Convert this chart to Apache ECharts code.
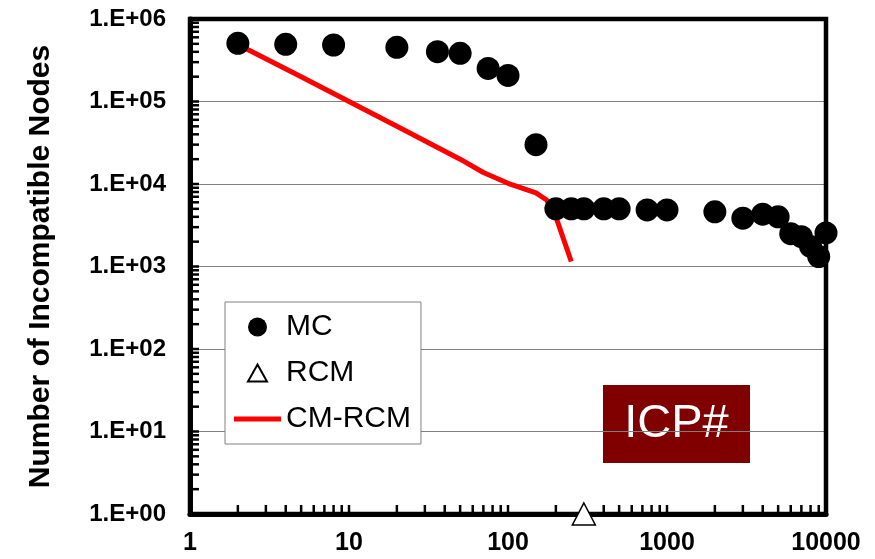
<!DOCTYPE html>
<html>
<head>
<meta charset="utf-8">
<script src="https://cdn.jsdelivr.net/npm/echarts@6/dist/echarts.min.js"></script>
<style>
html,body{margin:0;padding:0;background:#fff;}
#chart{width:875px;height:559px;}
</style>
</head>
<body>
<div id="chart"></div>
<script>
// ---- data ----
var mcX = [2, 4, 8, 20, 36, 50, 75, 100, 150, 200, 250, 300, 400, 500, 750, 1000, 2000, 3000, 4000, 5000, 6000, 7000, 8000, 9000, 10000];
var mcY = [507000, 493000, 484000, 454000, 402000, 384000, 252000, 207000, 30000, 5000, 5000, 5000, 5000, 5000, 4850, 4850, 4600, 3850, 4300, 4000, 2500, 2300, 1750, 1320, 2550];
var rcmX = [300];
var rcmY = [1];
var cmX = [2, 5, 10, 20, 50, 70, 100, 150, 175, 200, 250];
var cmY = [490000, 200000, 100000, 50000, 20000, 13800, 10200, 7800, 6400, 4000, 1150];
var xTickLabels = ['1', '10', '100', '1000', '10000'];
var yTickLabels = ['1.E+00', '1.E+01', '1.E+02', '1.E+03', '1.E+04', '1.E+05', '1.E+06'];
var seriesNames = ['MC', 'RCM', 'CM-RCM'];
var yTitle = 'Number of Incompatible Nodes';
var boxLabel = 'ICP#';
var xRange = [1, 10000];
var yRange = [1, 1000000];

function zip(a, b) { return a.map(function (v, i) { return [v, b[i]]; }); }
// tick positions along the log axes (1..9 within each decade)
function tickVals(decades) {
  var out = [];
  for (var d = 0; d < decades; d++) for (var k = 1; k <= 9; k++) out.push(k * Math.pow(10, d));
  out.push(Math.pow(10, decades));
  return out;
}
var xTicks = tickVals(4).map(function (v) { return [v, yRange[0]]; });
var yTicks = tickVals(6).map(function (v) { return [xRange[0], v]; });
var frame = [[xRange[0], yRange[0]], [xRange[1], yRange[0]], [xRange[1], yRange[1]], [xRange[0], yRange[1]], [xRange[0], yRange[0]]];

var FONT = '"Liberation Sans", Arial, sans-serif';
var chart = echarts.init(document.getElementById('chart'), null, { renderer: 'canvas' });

var option = {
  animation: false,
  backgroundColor: '#ffffff',
  grid: { left: 190, right: 49, top: 19, bottom: 45, show: true, borderColor: '#000', borderWidth: 4, backgroundColor: 'transparent' },
  xAxis: {
    type: 'log', logBase: 10, min: xRange[0], max: xRange[1], splitNumber: 4,
    axisLine: { show: true, onZero: false, lineStyle: { color: '#000', width: 5 } },
    axisTick: { show: false },
    splitLine: { show: false },
    axisLabel: {
      margin: 17, color: '#000', fontFamily: FONT, fontWeight: 'bold', fontSize: 25,
      formatter: function (v) { var i = Math.round(Math.log10(v)); return xTickLabels[i] || ''; }
    }
  },
  yAxis: {
    type: 'log', logBase: 10, min: yRange[0], max: yRange[1], splitNumber: 6,
    name: yTitle, nameLocation: 'middle', nameRotate: 90, nameGap: 134,
    nameTextStyle: { color: '#000', fontFamily: FONT, fontWeight: 'bold', fontSize: 30 },
    axisLine: { show: true, onZero: false, lineStyle: { color: '#000', width: 5 } },
    axisTick: { show: false },
    splitLine: { show: true, lineStyle: { color: '#808080', width: 1 } },
    axisLabel: {
      margin: 24, color: '#000', fontFamily: FONT, fontWeight: 'bold', fontSize: 24,
      formatter: function (v) { var i = Math.round(Math.log10(v)); return yTickLabels[i] || ''; }
    }
  },
  legend: {
    data: [
      { name: seriesNames[0], icon: 'circle' },
      { name: seriesNames[1], icon: 'path://M0,0L0,0ZM47,19L47,19ZM14,18L23.5,1L33,18Z' },
      { name: seriesNames[2], icon: 'path://M0,7H47V12H0ZM0,0L0,0ZM47,19L47,19Z' }
    ],
    orient: 'vertical',
    left: 225, top: 302,
    padding: [10, 10, 10, 8],
    itemWidth: 47, itemHeight: 19, itemGap: 16,
    backgroundColor: '#fff', borderColor: '#808080', borderWidth: 1,
    textStyle: { color: '#000', fontFamily: FONT, fontSize: 30, lineHeight: 30 },
    selectedMode: false
  },
  graphic: [{
    type: 'group', left: 603, top: 385, z: 100,
    children: [
      { type: 'rect', shape: { x: 0, y: 0, width: 147, height: 78 }, style: { fill: '#800000' } },
      { type: 'text', x: 73.5, y: 39, style: { text: boxLabel, fill: '#fff', font: '47px ' + FONT, align: 'center', verticalAlign: 'middle' } }
    ]
  }],
  series: [
    {
      name: 'frame', type: 'line', data: frame, symbol: 'none', showSymbol: false, silent: true,
      lineStyle: { color: '#000', width: 4.5, cap: 'square', join: 'miter' }, clip: false, z: 2
    },
    {
      name: 'xticks', type: 'scatter', data: xTicks, symbol: 'rect', symbolSize: [2.5, 9], symbolOffset: [0, -4.5],
      itemStyle: { color: '#000', opacity: 1 }, silent: true, clip: false, z: 2
    },
    {
      name: 'yticks', type: 'scatter', data: yTicks, symbol: 'rect', symbolSize: [9, 2.5], symbolOffset: [4.5, 0],
      itemStyle: { color: '#000', opacity: 1 }, silent: true, clip: false, z: 2
    },
    {
      name: 'MC', type: 'scatter', data: zip(mcX, mcY), symbol: 'circle', symbolSize: 23,
      itemStyle: { color: '#000', opacity: 1 }, z: 4, clip: false
    },
    {
      name: 'RCM', type: 'scatter', data: zip(rcmX, rcmY), symbol: 'triangle', symbolSize: [23, 22],
      itemStyle: { color: '#fff', borderColor: '#000', borderWidth: 1.5, opacity: 1 }, z: 10, clip: false
    },
    {
      name: 'CM-RCM', type: 'line', data: zip(cmX, cmY), symbol: 'none', showSymbol: false,
      lineStyle: { color: '#ff0000', width: 5 }, itemStyle: { color: '#ff0000' }, z: 3
    }
  ]
};
chart.setOption(option);
chart.getZr().refreshImmediately();
</script>
</body>
</html>
